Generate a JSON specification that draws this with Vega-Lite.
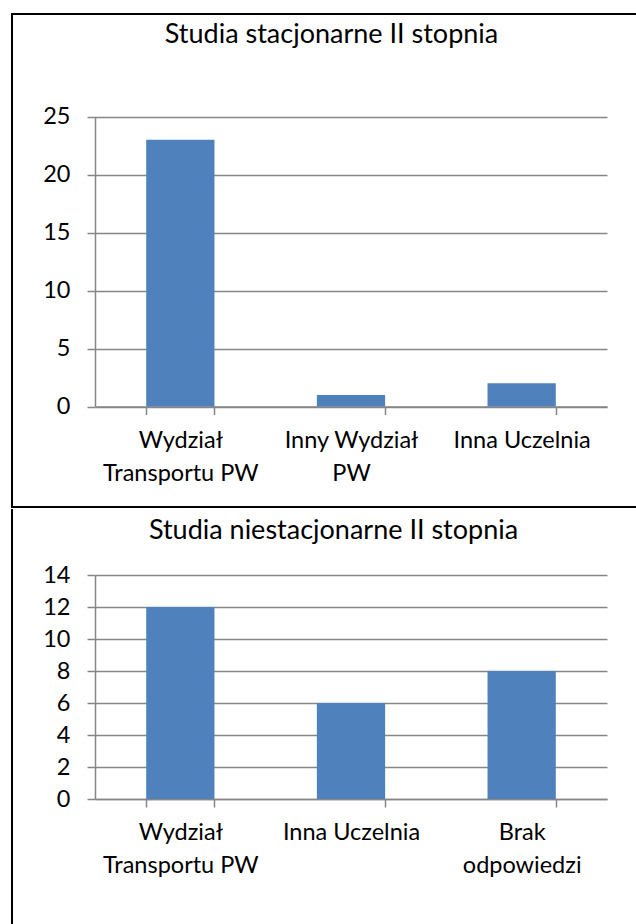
{
  "$schema": "https://vega.github.io/schema/vega-lite/v6.json",
  "padding": {"left": 10, "top": 13, "right": -5, "bottom": -8},
  "background": "white",
  "spacing": 0,
  "config": {
    "font": "Lato",
    "view": {"stroke": "black", "strokeWidth": 2},
    "axis": {
      "labelFont": "Lato",
      "labelColor": "#000000",
      "labelFontSize": 23.5,
      "domainColor": "#868686",
      "tickColor": "#868686",
      "gridColor": "#868686",
      "domainWidth": 1.5,
      "tickWidth": 1.5,
      "gridWidth": 1.5,
      "titleFont": "Lato",
      "titleFontSize": 27,
      "titleFontWeight": "normal",
      "titleColor": "#000000"
    }
  },
  "vconcat": [
    {
      "width": 630,
      "height": 493,
      "data": {"values": [
        {"kategoria": "Wydział\nTransportu PW", "liczba": 23},
        {"kategoria": "Inny Wydział\nPW", "liczba": 1},
        {"kategoria": "Inna Uczelnia", "liczba": 2}
      ]},
      "mark": {"type": "bar", "color": "#4F81BD"},
      "encoding": {
        "x": {
          "field": "kategoria", "type": "nominal", "sort": null,
          "scale": {"range": [83, 595], "paddingInner": 0.6, "paddingOuter": 0.3},
          "axis": {"labelAngle": 0, "offset": -100.5, "tickSize": 8, "tickBand": "extent", "labelPadding": 14, "labelLineHeight": 33, "labelBaseline": "top", "labelExpr": "split(datum.label, '\\n')", "grid": false,
            "title": "Studia stacjonarne II stopnia", "titleX": 319, "titleY": -364.5, "titleAlign": "center", "titleBaseline": "alphabetic", "titleAnchor": null}
        },
        "y": {
          "field": "liczba", "type": "quantitative",
          "scale": {"domain": [0, 25], "range": [392.5, 102.5], "nice": false},
          "axis": {"values": [0, 5, 10, 15, 20, 25], "offset": -83, "tickSize": 8, "labelPadding": 17, "grid": true, "title": null}
        }
      }
    },
    {
      "width": 630,
      "height": 425,
      "view": {"stroke": "black", "strokeWidth": 2, "strokeDash": [0, 1685, 425], "strokeCap": "square"},
      "data": {"values": [
        {"kategoria": "Wydział\nTransportu PW", "liczba": 12},
        {"kategoria": "Inna Uczelnia", "liczba": 6},
        {"kategoria": "Brak\nodpowiedzi", "liczba": 8}
      ]},
      "mark": {"type": "bar", "color": "#4F81BD"},
      "encoding": {
        "x": {
          "field": "kategoria", "type": "nominal", "sort": null,
          "scale": {"range": [83, 595], "paddingInner": 0.6, "paddingOuter": 0.3},
          "axis": {"labelAngle": 0, "offset": -136, "tickSize": 8, "tickBand": "extent", "labelPadding": 13, "labelLineHeight": 33, "labelBaseline": "top", "labelExpr": "split(datum.label, '\\n')", "grid": false,
            "title": "Studia niestacjonarne II stopnia", "titleX": 321, "titleY": -261, "titleAlign": "center", "titleBaseline": "alphabetic", "titleAnchor": null}
        },
        "y": {
          "field": "liczba", "type": "quantitative",
          "scale": {"domain": [0, 14], "range": [289, 65], "nice": false},
          "axis": {"values": [0, 2, 4, 6, 8, 10, 12, 14], "offset": -83, "tickSize": 8, "labelPadding": 17, "grid": true, "title": null}
        }
      }
    }
  ]
}
